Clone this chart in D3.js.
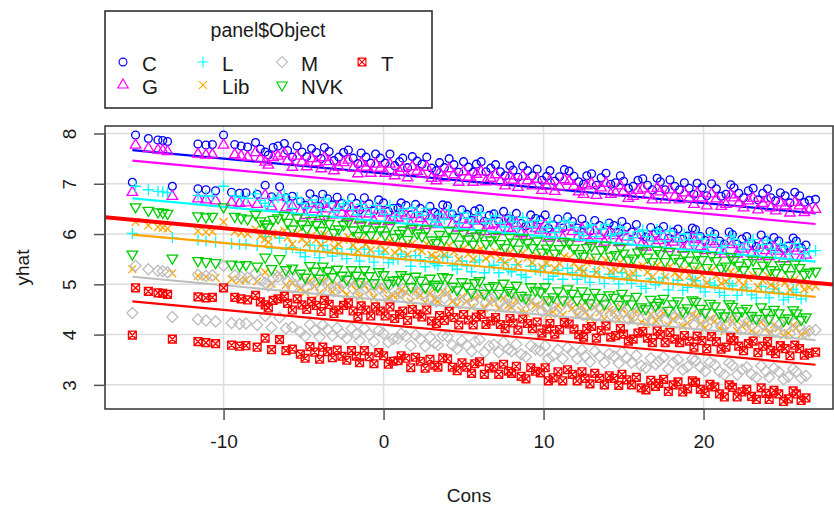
<!DOCTYPE html>
<html><head><meta charset="utf-8">
<script src="https://cdn.jsdelivr.net/npm/d3@7"></script>
<style>body{margin:0;background:#fff}svg{display:block}text{font-family:"Liberation Sans",Arial,sans-serif;fill:#1a1a1a}</style>
</head><body><svg id="chart" width="834" height="509"></svg>
<script>
// ---------- data ----------
const objects = ["C","G","L","Lib","M","NVK","T"];
const colors  = ["#0000FF","#FF00FF","#00FFFF","#FFA500","#BEBEBE","#00CD00","#FF0000"];
const shapes  = ["circle","triUp","plus","cross","diamond","triDown","boxX"];

const cons = [-15.5,-14.7,-14.1,-13.8,-13.5,-11.6,-11.1,-10.7,-10.0,-9.3,-8.9,-8.5,
-8.0,-7.4,-6.9,-6.2,-5.7,-5.1,-4.5,-3.9,-3.4,-2.8,-2.2,-1.6,-1.1,-0.5,0.1,0.7,1.2,1.8,2.4,3.0,3.5,4.1,4.7,5.3,5.8,6.4,7.0,7.6,8.1,8.7,9.3,9.9,10.4,11.0,11.6,12.2,12.7,13.3,13.9,14.5,15.0,15.6,16.2,16.8,17.3,17.9,18.5,19.1,19.6,20.2,20.8,21.4,21.9,22.5,23.1,23.7,24.2,24.8,25.4,26.0,26.6,27.0,
-15.7,-13.2,-11.6,-11.1,-10.5,-9.5,-9.0,-8.6,-7.9,-7.4,-7.0,-6.5,-6.1,-5.7,
-5.2,-4.6,-4.0,-3.5,-2.9,-2.3,-1.7,-1.2,-0.6,0.0,0.6,1.1,1.7,2.3,2.9,3.4,4.0,4.6,5.2,5.7,6.3,6.9,7.5,8.0,8.6,9.2,9.8,10.3,10.9,11.5,12.1,12.6,13.2,13.8,14.4,14.9,15.5,16.1,16.7,17.2,17.8,18.4,19.0,19.5,20.1,20.7,21.3,21.8,22.4,23.0,23.6,24.1,24.7,25.3,25.8,26.4,
-7.7,-7.2,-6.6,-6.0,-5.4,-4.8,-4.2,-3.7,-3.1,-2.5,-1.9,-1.4,-0.8,-0.2,0.4,1.0,1.5,2.1,2.7,3.3,3.8,4.4,5.0,5.6,6.1,6.7,7.3,7.9,8.4,9.0,9.6,10.2,10.7,11.3,11.9,12.5,13.0,13.6,14.2,14.8,15.3,15.9,16.5,17.1,17.6,18.2,18.8,19.4,19.9,20.5,21.1,21.7,22.2,22.8,23.4,24.0,24.5,25.1,25.7,26.3,
-4.9,-4.3,-3.8,-3.2,-2.6,-2.0,-1.5,-0.9,-0.3,0.3,0.9,1.4,2.0,2.6,3.2,3.7,4.3,4.9,5.5,6.0,6.6,7.2,7.8,8.3,8.9,9.5,10.1,10.6,11.2,11.8,12.4,12.9,13.5,14.1,14.7,15.2,15.8,16.4,17.0,17.5,18.1,18.7,19.3,19.8,20.4,21.0,21.6,22.1,22.7,23.3,23.9,24.4,25.0,25.6,26.1];

const yhatC = [7.97,7.90,7.87,7.86,7.84,7.79,7.77,7.78,7.97,7.78,7.75,7.73,
7.82,7.63,7.72,7.80,7.53,7.63,7.70,7.50,7.64,7.53,7.67,7.40,7.53,7.59,7.41,7.36,7.51,7.54,7.39,7.31,7.42,7.50,7.23,7.33,7.39,7.24,7.38,7.16,7.27,7.35,7.16,7.07,7.26,7.14,7.25,7.04,7.16,6.97,7.21,7.02,7.05,6.95,7.10,6.88,7.04,7.08,6.88,6.91,7.01,6.76,6.90,6.79,6.92,6.72,6.91,6.81,6.72,6.82,6.62,6.76,6.67,6.69,
7.03,6.95,6.90,6.88,6.86,6.83,6.81,6.82,6.79,6.97,6.74,6.94,6.72,6.75,
6.65,6.80,6.55,6.70,6.73,6.53,6.61,6.72,6.46,6.62,6.51,6.62,6.38,6.51,6.55,6.39,6.56,6.32,6.39,6.46,6.25,6.40,6.45,6.27,6.21,6.38,6.28,6.12,6.30,6.34,6.12,6.17,6.27,6.04,6.17,6.25,6.04,5.98,6.13,6.07,5.91,6.10,5.96,6.09,5.87,6.00,5.80,5.99,5.90,5.81,5.98,5.75,5.86,5.76,5.86,5.78,
7.69,7.57,7.75,7.66,7.75,7.54,7.62,7.72,7.46,7.62,7.51,7.61,7.41,7.51,7.59,7.44,7.32,7.45,7.53,7.26,7.32,7.38,7.44,7.23,7.44,7.31,7.24,7.36,7.13,7.26,7.29,7.15,7.05,7.28,7.15,6.99,7.20,7.12,6.99,7.16,6.91,7.07,6.97,7.11,6.88,6.95,7.02,6.79,6.92,7.00,6.75,6.98,6.81,6.86,6.68,6.90,6.66,6.76,6.83,6.63,
6.57,6.69,6.79,6.58,6.61,6.72,6.48,6.60,6.68,6.45,6.52,6.57,6.59,6.37,6.43,6.58,6.39,6.48,6.27,6.50,6.37,6.25,6.31,6.41,6.16,6.31,6.38,6.18,6.12,6.25,6.30,6.06,6.17,6.22,6.03,6.14,6.19,5.94,6.01,6.15,6.04,5.90,6.12,5.95,6.05,5.86,6.04,5.80,5.95,5.75,5.87,5.93,5.71,5.92,5.73];

const yhatG = [7.77,7.70,7.67,7.66,7.64,7.59,7.57,7.58,7.77,7.58,7.55,7.53,
7.62,7.43,7.52,7.60,7.33,7.43,7.50,7.30,7.44,7.33,7.47,7.20,7.33,7.39,7.21,7.16,7.31,7.34,7.19,7.11,7.22,7.30,7.03,7.13,7.19,7.04,7.18,6.96,7.07,7.15,6.96,6.87,7.06,6.94,7.05,6.84,6.96,6.77,7.01,6.82,6.85,6.75,6.90,6.68,6.84,6.88,6.68,6.71,6.81,6.56,6.70,6.59,6.72,6.52,6.71,6.61,6.52,6.62,6.42,6.56,6.47,6.49,
6.83,6.75,6.70,6.68,6.66,6.63,6.61,6.62,6.59,6.77,6.54,6.74,6.52,6.55,
6.45,6.60,6.35,6.50,6.53,6.33,6.41,6.52,6.26,6.42,6.31,6.42,6.18,6.31,6.35,6.19,6.36,6.12,6.19,6.26,6.05,6.20,6.25,6.07,6.01,6.18,6.08,5.92,6.10,6.14,5.92,5.97,6.07,5.84,5.97,6.05,5.84,5.78,5.93,5.87,5.71,5.90,5.76,5.89,5.67,5.80,5.60,5.79,5.70,5.61,5.78,5.55,5.66,5.56,5.66,5.58,
7.49,7.37,7.55,7.46,7.55,7.34,7.42,7.52,7.26,7.42,7.31,7.41,7.21,7.31,7.39,7.24,7.12,7.25,7.33,7.06,7.12,7.18,7.24,7.03,7.24,7.11,7.04,7.16,6.93,7.06,7.09,6.95,6.85,7.08,6.95,6.79,7.00,6.92,6.79,6.96,6.71,6.87,6.77,6.91,6.68,6.75,6.82,6.59,6.72,6.80,6.55,6.78,6.61,6.66,6.48,6.70,6.46,6.56,6.63,6.43,
6.37,6.49,6.59,6.38,6.41,6.52,6.28,6.40,6.48,6.25,6.32,6.37,6.39,6.17,6.23,6.38,6.19,6.28,6.07,6.30,6.17,6.05,6.11,6.21,5.96,6.11,6.18,5.98,5.92,6.05,6.10,5.86,5.97,6.02,5.83,5.94,5.99,5.74,5.81,5.95,5.84,5.70,5.92,5.75,5.85,5.66,5.84,5.60,5.75,5.55,5.67,5.73,5.51,5.72,5.53];

const yhatL = [6.95,6.88,6.85,6.84,6.82,6.77,6.75,6.76,6.95,6.76,6.73,6.71,
6.80,6.61,6.70,6.78,6.51,6.61,6.68,6.48,6.62,6.51,6.65,6.38,6.51,6.57,6.39,6.34,6.49,6.52,6.37,6.29,6.40,6.48,6.21,6.31,6.37,6.22,6.36,6.14,6.25,6.33,6.14,6.05,6.24,6.12,6.23,6.02,6.14,5.95,6.19,6.00,6.03,5.93,6.08,5.86,6.02,6.06,5.86,5.89,5.99,5.74,5.88,5.77,5.90,5.70,5.89,5.79,5.70,5.80,5.60,5.74,5.65,5.67,
6.01,5.93,5.88,5.86,5.84,5.81,5.79,5.80,5.77,5.95,5.72,5.92,5.70,5.73,
5.63,5.78,5.53,5.68,5.71,5.51,5.59,5.70,5.44,5.60,5.49,5.60,5.36,5.49,5.53,5.37,5.54,5.30,5.37,5.44,5.23,5.38,5.43,5.25,5.19,5.36,5.26,5.10,5.28,5.32,5.10,5.15,5.25,5.02,5.15,5.23,5.02,4.96,5.11,5.05,4.89,5.08,4.94,5.07,4.85,4.98,4.78,4.97,4.88,4.79,4.96,4.73,4.84,4.74,4.84,4.76,
6.67,6.55,6.73,6.64,6.73,6.52,6.60,6.70,6.44,6.60,6.49,6.59,6.39,6.49,6.57,6.42,6.30,6.43,6.51,6.24,6.30,6.36,6.42,6.21,6.42,6.29,6.22,6.34,6.11,6.24,6.27,6.13,6.03,6.26,6.13,5.97,6.18,6.10,5.97,6.14,5.89,6.05,5.95,6.09,5.86,5.93,6.00,5.77,5.90,5.98,5.73,5.96,5.79,5.84,5.66,5.88,5.64,5.74,5.81,5.61,
5.55,5.67,5.77,5.56,5.59,5.70,5.46,5.58,5.66,5.43,5.50,5.55,5.57,5.35,5.41,5.56,5.37,5.46,5.25,5.48,5.35,5.23,5.29,5.39,5.14,5.29,5.36,5.16,5.10,5.23,5.28,5.04,5.15,5.20,5.01,5.12,5.17,4.92,4.99,5.13,5.02,4.88,5.10,4.93,5.03,4.84,5.02,4.78,4.93,4.73,4.85,4.91,4.69,4.90,4.71];

const yhatLib = [6.24,6.17,6.14,6.13,6.11,6.06,6.04,6.05,6.24,6.05,6.02,6.00,
6.09,5.90,5.99,6.07,5.80,5.90,5.97,5.77,5.91,5.80,5.94,5.67,5.80,5.86,5.68,5.63,5.78,5.81,5.66,5.58,5.69,5.77,5.50,5.60,5.66,5.51,5.65,5.43,5.54,5.62,5.43,5.34,5.53,5.41,5.52,5.31,5.43,5.24,5.48,5.29,5.32,5.22,5.37,5.15,5.31,5.35,5.15,5.18,5.28,5.03,5.17,5.06,5.19,4.99,5.18,5.08,4.99,5.09,4.89,5.03,4.94,4.96,
5.30,5.22,5.17,5.15,5.13,5.10,5.08,5.09,5.06,5.24,5.01,5.21,4.99,5.02,
4.92,5.07,4.82,4.97,5.00,4.80,4.88,4.99,4.73,4.89,4.78,4.89,4.65,4.78,4.82,4.66,4.83,4.59,4.66,4.73,4.52,4.67,4.72,4.54,4.48,4.65,4.55,4.39,4.57,4.61,4.39,4.44,4.54,4.31,4.44,4.52,4.31,4.25,4.40,4.34,4.18,4.37,4.23,4.36,4.14,4.27,4.07,4.26,4.17,4.08,4.25,4.02,4.13,4.03,4.13,4.05,
5.96,5.84,6.02,5.93,6.02,5.81,5.89,5.99,5.73,5.89,5.78,5.88,5.68,5.78,5.86,5.71,5.59,5.72,5.80,5.53,5.59,5.65,5.71,5.50,5.71,5.58,5.51,5.63,5.40,5.53,5.56,5.42,5.32,5.55,5.42,5.26,5.47,5.39,5.26,5.43,5.18,5.34,5.24,5.38,5.15,5.22,5.29,5.06,5.19,5.27,5.02,5.25,5.08,5.13,4.95,5.17,4.93,5.03,5.10,4.90,
4.84,4.96,5.06,4.85,4.88,4.99,4.75,4.87,4.95,4.72,4.79,4.84,4.86,4.64,4.70,4.85,4.66,4.75,4.54,4.77,4.64,4.52,4.58,4.68,4.43,4.58,4.65,4.45,4.39,4.52,4.57,4.33,4.44,4.49,4.30,4.41,4.46,4.21,4.28,4.42,4.31,4.17,4.39,4.22,4.32,4.13,4.31,4.07,4.22,4.02,4.14,4.20,3.98,4.19,4.00];

const yhatM = [5.37,5.30,5.27,5.26,5.24,5.19,5.17,5.18,5.37,5.18,5.15,5.13,
5.22,5.03,5.12,5.20,4.93,5.03,5.10,4.90,5.04,4.93,5.07,4.80,4.93,4.99,4.81,4.76,4.91,4.94,4.79,4.71,4.82,4.90,4.63,4.73,4.79,4.64,4.78,4.56,4.67,4.75,4.56,4.47,4.66,4.54,4.65,4.44,4.56,4.37,4.61,4.42,4.45,4.35,4.50,4.28,4.44,4.48,4.28,4.31,4.41,4.16,4.30,4.19,4.32,4.12,4.31,4.21,4.12,4.22,4.02,4.16,4.07,4.09,
4.43,4.35,4.30,4.28,4.26,4.23,4.21,4.22,4.19,4.37,4.14,4.34,4.12,4.15,
4.05,4.20,3.95,4.10,4.13,3.93,4.01,4.12,3.86,4.02,3.91,4.02,3.78,3.91,3.95,3.79,3.96,3.72,3.79,3.86,3.65,3.80,3.85,3.67,3.61,3.78,3.68,3.52,3.70,3.74,3.52,3.57,3.67,3.44,3.57,3.65,3.44,3.38,3.53,3.47,3.31,3.50,3.36,3.49,3.27,3.40,3.20,3.39,3.30,3.21,3.38,3.15,3.26,3.16,3.26,3.18,
5.09,4.97,5.15,5.06,5.15,4.94,5.02,5.12,4.86,5.02,4.91,5.01,4.81,4.91,4.99,4.84,4.72,4.85,4.93,4.66,4.72,4.78,4.84,4.63,4.84,4.71,4.64,4.76,4.53,4.66,4.69,4.55,4.45,4.68,4.55,4.39,4.60,4.52,4.39,4.56,4.31,4.47,4.37,4.51,4.28,4.35,4.42,4.19,4.32,4.40,4.15,4.38,4.21,4.26,4.08,4.30,4.06,4.16,4.23,4.03,
3.97,4.09,4.19,3.98,4.01,4.12,3.88,4.00,4.08,3.85,3.92,3.97,3.99,3.77,3.83,3.98,3.79,3.88,3.67,3.90,3.77,3.65,3.71,3.81,3.56,3.71,3.78,3.58,3.52,3.65,3.70,3.46,3.57,3.62,3.43,3.54,3.59,3.34,3.41,3.55,3.44,3.30,3.52,3.35,3.45,3.26,3.44,3.20,3.35,3.15,3.27,3.33,3.11,3.32,3.13];

const yhatNVK = [6.54,6.47,6.44,6.43,6.41,6.36,6.34,6.35,6.54,6.35,6.32,6.30,
6.39,6.20,6.29,6.37,6.10,6.20,6.27,6.07,6.21,6.10,6.24,5.97,6.10,6.16,5.98,5.93,6.08,6.11,5.96,5.88,5.99,6.07,5.80,5.90,5.96,5.81,5.95,5.73,5.84,5.92,5.73,5.64,5.83,5.71,5.82,5.61,5.73,5.54,5.78,5.59,5.62,5.52,5.67,5.45,5.61,5.65,5.45,5.48,5.58,5.33,5.47,5.36,5.49,5.29,5.48,5.38,5.29,5.39,5.19,5.33,5.24,5.26,
5.60,5.52,5.47,5.45,5.43,5.40,5.38,5.39,5.36,5.54,5.31,5.51,5.29,5.32,
5.22,5.37,5.12,5.27,5.30,5.10,5.18,5.29,5.03,5.19,5.08,5.19,4.95,5.08,5.12,4.96,5.13,4.89,4.96,5.03,4.82,4.97,5.02,4.84,4.78,4.95,4.85,4.69,4.87,4.91,4.69,4.74,4.84,4.61,4.74,4.82,4.61,4.55,4.70,4.64,4.48,4.67,4.53,4.66,4.44,4.57,4.37,4.56,4.47,4.38,4.55,4.32,4.43,4.33,4.43,4.35,
6.26,6.14,6.32,6.23,6.32,6.11,6.19,6.29,6.03,6.19,6.08,6.18,5.98,6.08,6.16,6.01,5.89,6.02,6.10,5.83,5.89,5.95,6.01,5.80,6.01,5.88,5.81,5.93,5.70,5.83,5.86,5.72,5.62,5.85,5.72,5.56,5.77,5.69,5.56,5.73,5.48,5.64,5.54,5.68,5.45,5.52,5.59,5.36,5.49,5.57,5.32,5.55,5.38,5.43,5.25,5.47,5.23,5.33,5.40,5.20,
5.14,5.26,5.36,5.15,5.18,5.29,5.05,5.17,5.25,5.02,5.09,5.14,5.16,4.94,5.00,5.15,4.96,5.05,4.84,5.07,4.94,4.82,4.88,4.98,4.73,4.88,4.95,4.75,4.69,4.82,4.87,4.63,4.74,4.79,4.60,4.71,4.76,4.51,4.58,4.72,4.61,4.47,4.69,4.52,4.62,4.43,4.61,4.37,4.52,4.32,4.44,4.50,4.28,4.49,4.30];

const yhatT = [4.93,4.86,4.83,4.82,4.80,4.75,4.73,4.74,4.93,4.74,4.71,4.69,
4.78,4.59,4.68,4.76,4.49,4.59,4.66,4.46,4.60,4.49,4.63,4.36,4.49,4.55,4.37,4.32,4.47,4.50,4.35,4.27,4.38,4.46,4.19,4.29,4.35,4.20,4.34,4.12,4.23,4.31,4.12,4.03,4.22,4.10,4.21,4.00,4.12,3.93,4.17,3.98,4.01,3.91,4.06,3.84,4.00,4.04,3.84,3.87,3.97,3.72,3.86,3.75,3.88,3.68,3.87,3.77,3.68,3.78,3.58,3.72,3.63,3.65,
3.99,3.91,3.86,3.84,3.82,3.79,3.77,3.78,3.75,3.93,3.70,3.90,3.68,3.71,
3.61,3.76,3.51,3.66,3.69,3.49,3.57,3.68,3.42,3.58,3.47,3.58,3.34,3.47,3.51,3.35,3.52,3.28,3.35,3.42,3.21,3.36,3.41,3.23,3.17,3.34,3.24,3.08,3.26,3.30,3.08,3.13,3.23,3.00,3.13,3.21,3.00,2.94,3.09,3.03,2.87,3.06,2.92,3.05,2.83,2.96,2.76,2.95,2.86,2.77,2.94,2.71,2.82,2.72,2.82,2.74,
4.65,4.53,4.71,4.62,4.71,4.50,4.58,4.68,4.42,4.58,4.47,4.57,4.37,4.47,4.55,4.40,4.28,4.41,4.49,4.22,4.28,4.34,4.40,4.19,4.40,4.27,4.20,4.32,4.09,4.22,4.25,4.11,4.01,4.24,4.11,3.95,4.16,4.08,3.95,4.12,3.87,4.03,3.93,4.07,3.84,3.91,3.98,3.75,3.88,3.96,3.71,3.94,3.77,3.82,3.64,3.86,3.62,3.72,3.79,3.59,
3.53,3.65,3.75,3.54,3.57,3.68,3.44,3.56,3.64,3.41,3.48,3.53,3.55,3.33,3.39,3.54,3.35,3.44,3.23,3.46,3.33,3.21,3.27,3.37,3.12,3.27,3.34,3.14,3.08,3.21,3.26,3.02,3.13,3.18,2.99,3.10,3.15,2.90,2.97,3.11,3.00,2.86,3.08,2.91,3.01,2.82,3.00,2.76,2.91,2.71,2.83,2.89,2.67,2.88,2.69];

// fitted line per object: value at Cons = -15.7 and at Cons = 27.0
const fitX = [-15.7, 27.0];
const fitStart = [7.67, 7.46, 6.71, 5.99, 5.15, 6.28, 4.66];
const fitEnd   = [6.41, 6.20, 5.45, 4.75, 3.89, 5.02, 3.40];
// overall abline: intercept, slope
const abline = [5.82, -0.0294];

const xTicks = [-10, 0, 10, 20];
const yTicks = [3, 4, 5, 6, 7, 8];

const series = objects.map((o, i) => ({
  name: o, color: colors[i], shape: shapes[i],
  values: [yhatC, yhatG, yhatL, yhatLib, yhatM, yhatNVK, yhatT][i],
  fit: [[fitX[0], fitStart[i]], [fitX[1], fitEnd[i]]]
}));

// ---------- drawing ----------
const svg = d3.select("#chart");
const L = 105, Rt = 833, T = 126, B = 409;
const x = d3.scaleLinear().domain([-17.41, 28.09]).range([L, Rt]);
const y = d3.scaleLinear().domain([2.52, 8.149]).range([B, T]);

const RAD = 3.9;
function sym(shape, cx, cy) {
  const r = RAD;
  switch (shape) {
    case "circle": return `M${cx+r},${cy}A${r},${r} 0 1 1 ${cx-r},${cy}A${r},${r} 0 1 1 ${cx+r},${cy}Z`;
    case "triUp": { const t = 1.5551*r, xc = 1.3468*r, yc = 0.7776*r;
      return `M${cx},${cy-t}L${cx+xc},${cy+yc}L${cx-xc},${cy+yc}Z`; }
    case "triDown": { const t = 1.5551*r, xc = 1.3468*r, yc = 0.7776*r;
      return `M${cx},${cy+t}L${cx+xc},${cy-yc}L${cx-xc},${cy-yc}Z`; }
    case "plus": { const a = 1.4142*r;
      return `M${cx-a},${cy}L${cx+a},${cy}M${cx},${cy-a}L${cx},${cy+a}`; }
    case "cross": return `M${cx-r},${cy-r}L${cx+r},${cy+r}M${cx-r},${cy+r}L${cx+r},${cy-r}`;
    case "diamond": { const a = 1.4142*r;
      return `M${cx},${cy-a}L${cx+a},${cy}L${cx},${cy+a}L${cx-a},${cy}Z`; }
    case "boxX": return `M${cx-r},${cy-r}H${cx+r}V${cy+r}H${cx-r}Z M${cx-r},${cy-r}L${cx+r},${cy+r}M${cx-r},${cy+r}L${cx+r},${cy-r}`;
  }
}

svg.append("defs").append("clipPath").attr("id", "clip")
  .append("rect").attr("x", L).attr("y", T).attr("width", Rt - L).attr("height", B - T);

// grid
const grid = svg.append("g").attr("stroke", "#dcdcdc").attr("stroke-width", 1.5);
grid.selectAll(".gy").data(yTicks).join("line")
  .attr("x1", L).attr("x2", Rt).attr("y1", d => y(d)).attr("y2", d => y(d));
grid.selectAll(".gx").data(xTicks).join("line")
  .attr("y1", T).attr("y2", B).attr("x1", d => x(d)).attr("x2", d => x(d));

const plot = svg.append("g").attr("clip-path", "url(#clip)");
series.forEach(s => {
  const g = plot.append("g").attr("fill", "none").attr("stroke", s.color).attr("stroke-width", 1.35);
  const n = Math.min(cons.length, s.values.length);
  g.selectAll("path").data(d3.range(n)).join("path")
    .attr("d", i => sym(s.shape, x(cons[i]), y(s.values[i])));
  plot.append("path").datum(s.fit)
    .attr("d", d3.line().x(d => x(d[0])).y(d => y(d[1])))
    .attr("fill", "none").attr("stroke", s.color).attr("stroke-width", 2.2);
});
// abline
const ax = x.domain();
plot.append("line")
  .attr("x1", x(ax[0])).attr("y1", y(abline[0] + abline[1]*ax[0]))
  .attr("x2", x(ax[1])).attr("y2", y(abline[0] + abline[1]*ax[1]))
  .attr("stroke", "#FF0000").attr("stroke-width", 4);

// box
svg.append("rect").attr("x", L).attr("y", T).attr("width", Rt - L).attr("height", B - T)
  .attr("fill", "none").attr("stroke", "#333").attr("stroke-width", 1.5);

// axes
const yAxis = svg.append("g").attr("transform", `translate(${L},0)`)
  .call(d3.axisLeft(y).tickValues(yTicks).tickSize(11).tickFormat(d3.format("d")));
yAxis.select(".domain").attr("stroke", "#444").attr("stroke-width", 1.5)
  .attr("d", `M0,${y(yTicks[0])}V${y(yTicks[yTicks.length-1])}`);
yAxis.selectAll(".tick line").attr("stroke", "#555").attr("stroke-width", 1.5);
yAxis.selectAll(".tick text").attr("x", null).attr("dy", null)
  .attr("transform", "translate(-36,0) rotate(-90)")
  .attr("text-anchor", "middle").attr("dominant-baseline", "central")
  .style("font-size", "19px").style("font-family", "'Liberation Sans',Arial,sans-serif").attr("fill", "#1a1a1a");

const xAxis = svg.append("g").attr("transform", `translate(0,${B})`)
  .call(d3.axisBottom(x).tickValues(xTicks).tickSize(11).tickFormat(d => d < 0 ? "-" + Math.abs(d) : d));
xAxis.select(".domain").attr("stroke", "#444").attr("stroke-width", 1.5)
  .attr("d", `M${x(xTicks[0])},0H${x(xTicks[xTicks.length-1])}`);
xAxis.selectAll(".tick line").attr("stroke", "#555").attr("stroke-width", 1.5);
xAxis.selectAll(".tick text").attr("y", 32).attr("dy", null).attr("dominant-baseline", "central")
  .style("font-size", "19px").style("font-family", "'Liberation Sans',Arial,sans-serif").attr("fill", "#1a1a1a");

// axis titles
svg.append("text").attr("x", (L + Rt) / 2).attr("y", 495).attr("text-anchor", "middle")
  .attr("dominant-baseline", "central").style("font-size", "19px").text("Cons");
svg.append("text").attr("transform", `translate(22,${(T + B) / 2}) rotate(-90)`)
  .attr("text-anchor", "middle").attr("dominant-baseline", "central").style("font-size", "19px").text("yhat");

// legend
const lg = svg.append("g");
lg.append("rect").attr("x", 105).attr("y", 11).attr("width", 327).attr("height", 97)
  .attr("fill", "#fff").attr("stroke", "#222").attr("stroke-width", 1.5);
lg.append("text").attr("x", 268).attr("y", 30).attr("text-anchor", "middle")
  .attr("dominant-baseline", "central").style("font-size", "19.5px").text("panel$Object");
const colX = [123, 203, 282, 362], rowY = [62, 85];
series.forEach((s, i) => {
  const c = Math.floor(i / 2), r = i % 2;
  const sx = colX[c], sy = rowY[r];
  lg.append("path").attr("d", sym(s.shape, sx, sy)).attr("fill", "none")
    .attr("stroke", s.color).attr("stroke-width", 1.15);
  lg.append("text").attr("x", sx + 19).attr("y", sy + 1).attr("dominant-baseline", "central")
    .style("font-size", "20.5px").text(s.name);
});
</script></body></html>
